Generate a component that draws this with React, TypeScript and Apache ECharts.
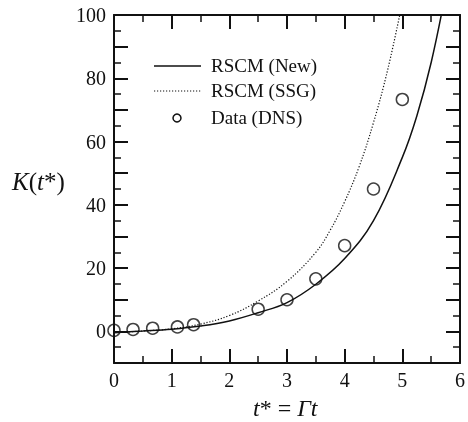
import React, { useEffect, useRef } from "react";
import * as echarts from "echarts";

// DNS samples of K(t*)
const timeDNS = [0, 0.33, 0.67, 1.1, 1.38, 2.5, 3, 3.5, 4, 4.5, 5];
const kDNS = [0.3, 0.6, 1.0, 1.4, 2.1, 7.0, 10.0, 16.6, 27.1, 45.0, 73.3];

// RSCM (New) prediction
const timeNew = [0, 0.5, 1, 1.5, 2, 2.5, 3, 3.5, 4, 4.5, 5, 5.25, 5.5, 5.75];
const kNew = [-0.4, 0.1, 0.7, 1.7, 3.3, 5.9, 9.1, 14.9, 23, 35, 55, 68, 85, 107];

// RSCM (SSG) prediction
const timeSSG = [0, 0.5, 1, 1.5, 2, 2.5, 3, 3.5, 3.75, 4, 4.25, 4.5, 4.75, 5];
const kSSG = [-0.4, 0.1, 0.8, 2.3, 5.0, 9.6, 15.8, 25, 32, 41, 52, 66, 83, 104];

const legendLabels = ["RSCM (New)", "RSCM (SSG)", "Data (DNS)"];

const SERIF = "Liberation Serif";
const INK = "#111";

const zip = (xs: number[], ys: number[]) => xs.map((x, i) => [x, ys[i]]);

export default function App() {
  const ref = useRef<HTMLDivElement>(null);

  useEffect(() => {
    if (!ref.current) return;
    const chart = echarts.init(ref.current, undefined, { renderer: "svg" });

    const tickCommon = {
      axisLine: { show: true, onZero: false, lineStyle: { color: INK, width: 2 } },
      axisTick: { show: true, inside: true, length: 14, lineStyle: { color: INK, width: 2 } },
      minorTick: { show: true, splitNumber: 2, length: 7, lineStyle: { color: INK, width: 1.5 } },
      splitLine: { show: false },
      minorSplitLine: { show: false },
    };

    const xBase = { type: "value", min: 0, max: 6, interval: 1, ...tickCommon };
    const yBase = { type: "value", min: -10, max: 100, interval: 10, ...tickCommon };

    chart.setOption({
      animation: false,
      grid: { left: 114, right: 7, top: 15, bottom: 59, containLabel: false },
      xAxis: [
        {
          ...xBase,
          position: "bottom",
          axisLabel: { show: true, color: INK, fontFamily: SERIF, fontSize: 20, margin: 7 },
        },
        { ...xBase, position: "top", axisLabel: { show: false } },
      ],
      yAxis: [
        {
          ...yBase,
          position: "left",
          axisLabel: {
            show: true,
            color: INK,
            fontFamily: SERIF,
            fontSize: 20,
            margin: 8,
            formatter: (v: number) => (v >= 0 && v % 20 === 0 ? String(v) : ""),
          },
        },
        { ...yBase, position: "right", axisLabel: { show: false } },
      ],
      series: [
        {
          name: legendLabels[0],
          type: "line",
          data: zip(timeNew, kNew),
          showSymbol: false,
          symbol: "none",
          smooth: 0.4,
          clip: true,
          lineStyle: { color: INK, width: 1.5 },
        },
        {
          name: legendLabels[1],
          type: "line",
          data: zip(timeSSG, kSSG),
          showSymbol: false,
          symbol: "none",
          smooth: 0.4,
          clip: true,
          lineStyle: { color: INK, width: 1.2, type: [1.2, 1.8] },
        },
        {
          name: legendLabels[2],
          type: "scatter",
          data: zip(timeDNS, kDNS),
          symbol: "circle",
          symbolSize: 12,
          itemStyle: { color: "none", borderColor: INK, borderWidth: 1.5 },
        },
      ],
      graphic: [
        // legend keys
        { type: "line", shape: { x1: 154, y1: 66, x2: 201, y2: 66 }, style: { stroke: INK, lineWidth: 1.5 } },
        {
          type: "line",
          shape: { x1: 154, y1: 91, x2: 201, y2: 91 },
          style: { stroke: INK, lineWidth: 1.2, lineDash: [1.2, 1.8] },
        },
        { type: "circle", shape: { cx: 177, cy: 118, r: 4 }, style: { fill: "none", stroke: INK, lineWidth: 1.5 } },
        // legend labels
        ...legendLabels.map((label, i) => ({
          type: "text",
          x: 211,
          y: [56, 81, 108][i],
          style: { text: label, fontFamily: SERIF, fontSize: 19, fill: INK },
        })),
        // axis titles
        {
          type: "text",
          x: 12,
          y: 169,
          style: {
            text: "{i|K}{n|(}{i|t}{n|*)}",
            fill: INK,
            rich: {
              i: { fontFamily: SERIF, fontSize: 25, fontStyle: "italic", fill: INK },
              n: { fontFamily: SERIF, fontSize: 25, fill: INK },
            },
          },
        },
        {
          type: "text",
          x: 253,
          y: 396,
          style: {
            text: "{i|t}{n|* = }{i|Γt}",
            fill: INK,
            rich: {
              i: { fontFamily: SERIF, fontSize: 24, fontStyle: "italic", fill: INK },
              n: { fontFamily: SERIF, fontSize: 24, fill: INK },
            },
          },
        },
      ],
    });

    return () => chart.dispose();
  }, []);

  return <div ref={ref} style={{ position: "fixed", left: 0, top: 0, width: 468, height: 422 }} />;
}
